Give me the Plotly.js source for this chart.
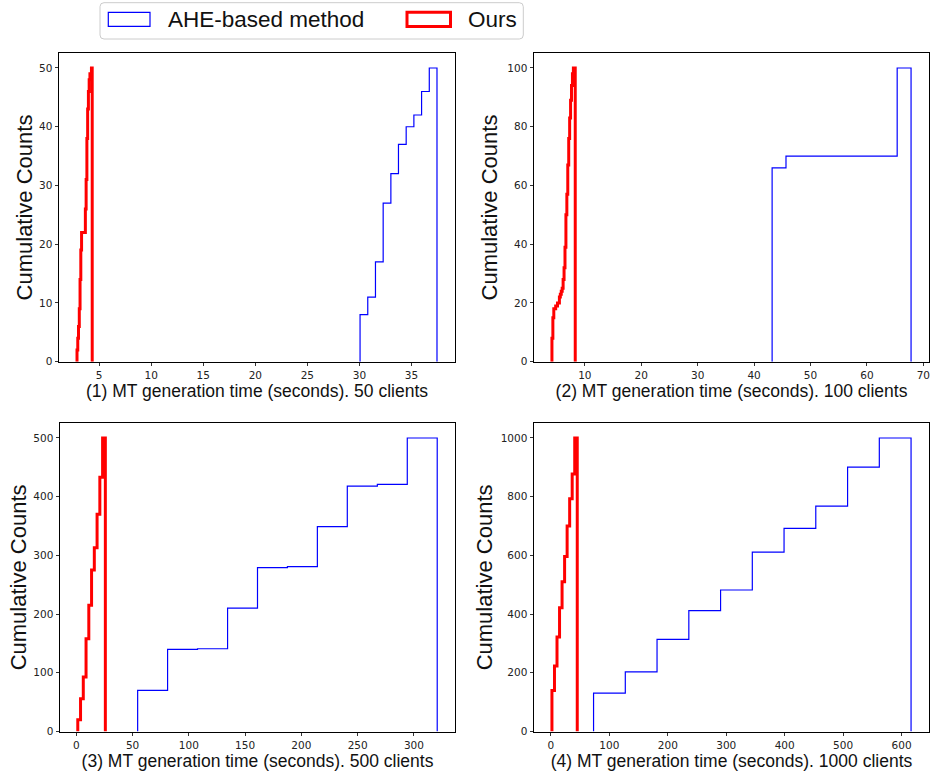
<!DOCTYPE html>
<html><head><meta charset="utf-8">
<script src="https://cdn.plot.ly/plotly-3.0.1.min.js"></script>
<style>body{margin:0;background:#fff;} #chart{width:930px;height:774px;}</style>
</head><body><div id="chart"></div>
<script>
const seriesNames = ["AHE-based method", "Ours"];
const xTitles = [
  "(1) MT generation time (seconds). 50 clients",
  "(2) MT generation time (seconds). 100 clients",
  "(3) MT generation time (seconds). 500 clients",
  "(4) MT generation time (seconds). 1000 clients"
];
const yTitle = "Cumulative Counts";

// Panel 1: 50 clients (cumulative step histograms: bin edges + cumulative counts)
const ahe50Edges = [30.06, 30.80, 31.54, 32.28, 33.02, 33.75, 34.49, 35.23, 35.97, 36.71, 37.45];
const ahe50Counts = [8, 11, 17, 27, 32, 37, 40, 42, 46, 50];
const ours50Edges = [2.870, 2.943, 3.016, 3.089, 3.162, 3.235, 3.308, 3.381, 3.454, 3.527, 3.600,
                     3.673, 3.746, 3.819, 3.892, 3.965, 4.038, 4.111, 4.184, 4.257, 4.330];
const ours50Counts = [2, 4, 6, 9, 14, 19, 22, 22, 22, 22, 22, 26, 31, 38, 43, 46, 48, 49, 49, 50];

// Panel 2: 100 clients
const ahe100Edges = [43.19, 45.65, 48.12, 50.58, 53.04, 55.51, 57.97, 60.43, 62.90, 65.36, 67.82];
const ahe100Counts = [66, 70, 70, 70, 70, 70, 70, 70, 70, 100];
const ours100Edges = [4.160, 4.325, 4.490, 4.656, 4.821, 4.986, 5.151, 5.316, 5.482, 5.647, 5.812,
                      5.977, 6.142, 6.308, 6.473, 6.638, 6.803, 6.968, 7.134, 7.299, 7.464, 7.629,
                      7.794, 7.960, 8.125, 8.290];
const ours100Counts = [8, 15, 18, 18, 19, 19, 20, 20, 22, 23, 24, 25, 28, 32, 39, 50, 57, 67, 76, 83,
                       89, 94, 98, 100, 100];

// Panel 3: 500 clients
const ahe500Edges = [54.5, 81.1, 107.7, 134.4, 161.0, 187.6, 214.2, 240.8, 267.5, 294.1, 320.7];
const ahe500Counts = [70, 140, 141, 210, 279, 281, 349, 418, 421, 500];
const ours500Edges = [1.30, 3.75, 6.20, 8.65, 11.10, 13.55, 16.00, 18.45, 20.90, 23.35, 25.80];
const ours500Counts = [20, 56, 93, 158, 215, 275, 313, 370, 433, 500];

// Panel 4: 1000 clients
const ahe1000Edges = [73.0, 127.3, 181.6, 236.0, 290.3, 344.6, 398.9, 453.2, 507.6, 561.9, 616.2];
const ahe1000Counts = [131, 203, 314, 412, 482, 611, 692, 768, 901, 1000];
const ours1000Edges = [1.80, 6.13, 10.46, 14.79, 19.12, 23.45, 27.78, 32.11, 36.44, 40.77, 45.10];
const ours1000Counts = [140, 223, 322, 422, 510, 596, 700, 793, 877, 1000];

const BLUE = "#0000ff", RED = "#ff0000";

function stepXY(edges, counts) {
  const x = [], y = [];
  let prev = 0;
  for (let i = 0; i < counts.length; i++) {
    x.push(edges[i], edges[i]);
    y.push(prev, counts[i]);
    prev = counts[i];
  }
  const last = edges[edges.length - 1];
  x.push(last, last);
  y.push(prev, 0);
  return {x, y};
}

function trace(edges, counts, name, color, width, ax) {
  const s = stepXY(edges, counts);
  return {
    type: "scatter", mode: "lines", x: s.x, y: s.y, name: name,
    line: {color: color, width: width, shape: "linear"},
    xaxis: "x" + ax, yaxis: "y" + ax, showlegend: false, hoverinfo: "skip"
  };
}

const data = [
  trace(ahe50Edges, ahe50Counts, seriesNames[0], BLUE, 1.2, ""),
  trace(ours50Edges, ours50Counts, seriesNames[1], RED, 3, ""),
  trace(ahe100Edges, ahe100Counts, seriesNames[0], BLUE, 1.2, "2"),
  trace(ours100Edges, ours100Counts, seriesNames[1], RED, 3, "2"),
  trace(ahe500Edges, ahe500Counts, seriesNames[0], BLUE, 1.2, "3"),
  trace(ours500Edges, ours500Counts, seriesNames[1], RED, 3, "3"),
  trace(ahe1000Edges, ahe1000Counts, seriesNames[0], BLUE, 1.2, "4"),
  trace(ours1000Edges, ours1000Counts, seriesNames[1], RED, 3, "4")
];

const W = 930, H = 774;
const px = v => v / W, py = v => 1 - v / H;

const tickFont = {family: "DejaVu Sans, sans-serif", size: 10.5, color: "#222"};
function xax(domain, range, dtick, title, anchor) {
  return {
    domain: domain, range: range, dtick: dtick, tick0: 0, anchor: anchor,
    showline: true, mirror: true, linecolor: "#000", linewidth: 1,
    ticks: "outside", ticklen: 3.5, tickwidth: 0.8, tickcolor: "#000",
    showgrid: false, zeroline: false, tickfont: tickFont, automargin: false,
    ticklabeloverflow: "allow",
    title: {text: title, font: {family: "Liberation Sans, Arial, sans-serif", size: 17.5, color: "#111"}, standoff: 4}
  };
}
function yax(domain, range, dtick, anchor, standoff) {
  return {
    domain: domain, range: range, dtick: dtick, tick0: 0, anchor: anchor,
    showline: true, mirror: true, linecolor: "#000", linewidth: 1,
    ticks: "outside", ticklen: 3.5, tickwidth: 0.8, tickcolor: "#000",
    showgrid: false, zeroline: false, tickfont: tickFont, automargin: false,
    ticklabeloverflow: "allow",
    title: {text: yTitle, font: {family: "Liberation Sans, Arial, sans-serif", size: 22, color: "#111"}, standoff: standoff}
  };
}

const topY = [py(361.7), py(53.3)];
const botY = [py(731.5), py(423.3)];
const leftX = [px(59), px(455)];
const leftX3 = [px(60), px(455)];
const rightX = [px(534), px(929)];

// Legend box with rounded corners (paper coords)
const bx0 = px(100), bx1 = px(523.3), by0 = py(39), by1 = py(2.7);
const rx = 4 / W, ry = 4 / H;
const boxPath = `M ${bx0 + rx},${by1} L ${bx1 - rx},${by1} Q ${bx1},${by1} ${bx1},${by1 - ry} ` +
  `L ${bx1},${by0 + ry} Q ${bx1},${by0} ${bx1 - rx},${by0} L ${bx0 + rx},${by0} ` +
  `Q ${bx0},${by0} ${bx0},${by0 + ry} L ${bx0},${by1 - ry} Q ${bx0},${by1} ${bx0 + rx},${by1} Z`;

const layout = {
  width: W, height: H,
  margin: {l: 0, r: 0, t: 0, b: 0},
  paper_bgcolor: "#fff", plot_bgcolor: "#fff",
  showlegend: false,
  xaxis: xax(leftX, [1.14, 39.18], 5, xTitles[0], "y"),
  yaxis: yax(topY, [0, 52.5], 10, "x", 0),
  xaxis2: xax(rightX, [0.98, 71.0], 10, xTitles[1], "y2"),
  yaxis2: yax(topY, [0, 105], 20, "x2", 3),
  xaxis3: xax(leftX3, [-14.5, 336.5], 50, xTitles[2], "y3"),
  yaxis3: yax(botY, [0, 525], 100, "x3", 0),
  xaxis4: xax(rightX, [-28.9, 646.9], 100, xTitles[3], "y4"),
  yaxis4: yax(botY, [0, 1050], 200, "x4", 1),
  shapes: [
    {type: "path", xref: "paper", yref: "paper", path: boxPath,
     line: {color: "#cccccc", width: 1}, fillcolor: "rgba(255,255,255,0.9)", layer: "above"},
    {type: "rect", xref: "paper", yref: "paper", x0: px(108.3), x1: px(150), y0: py(26.3), y1: py(12.3),
     line: {color: BLUE, width: 1.2}, fillcolor: "rgba(0,0,0,0)", layer: "above"},
    {type: "rect", xref: "paper", yref: "paper", x0: px(407), x1: px(450.5), y0: py(26.5), y1: py(12.3),
     line: {color: RED, width: 3}, fillcolor: "rgba(0,0,0,0)", layer: "above"}
  ],
  annotations: [
    {xref: "paper", yref: "paper", x: px(166), y: py(19.5), xanchor: "left", yanchor: "middle",
     text: seriesNames[0], showarrow: false,
     font: {family: "Liberation Sans, Arial, sans-serif", size: 22.5, color: "#111"}},
    {xref: "paper", yref: "paper", x: px(466), y: py(19.5), xanchor: "left", yanchor: "middle",
     text: seriesNames[1], showarrow: false,
     font: {family: "Liberation Sans, Arial, sans-serif", size: 22.5, color: "#111"}}
  ]
};

Plotly.newPlot("chart", data, layout, {staticPlot: true, displayModeBar: false});
</script>
</body></html>
